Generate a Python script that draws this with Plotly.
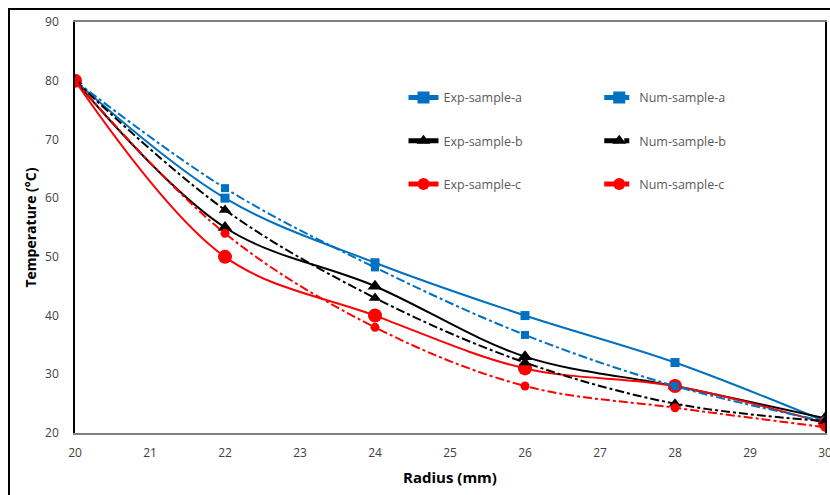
import plotly.graph_objects as go

# Radial positions (mm)
radius = [20, 22, 24, 26, 28, 30]

# Temperatures (°C) — experimental and numerical results for three samples
exp_a = [80, 60, 49, 40, 32, 22]
num_a = [80, 61.7, 48.2, 36.7, 28, 22]
exp_b = [80, 55, 45, 33, 28, 22.5]
num_b = [80, 58, 43, 32, 25, 22]
exp_c = [80, 50, 40, 31, 28, 21.7]
num_c = [80, 54, 38, 28, 24.3, 21]

y_ticks = [20, 30, 40, 50, 60, 70, 80, 90]
x_ticks = [20, 21, 22, 23, 24, 25, 26, 27, 28, 29, 30]

BLUE = "#0070C0"
BLACK = "#000000"
RED = "#FF0000"

series = [
    ("Exp-sample-a", exp_a, BLUE, "solid", "square", 9, "legend"),
    ("Exp-sample-b", exp_b, BLACK, "solid", "triangle-up", 13, "legend"),
    ("Exp-sample-c", exp_c, RED, "solid", "circle", 14, "legend"),
    ("Num-sample-a", num_a, BLUE, "dashdot", "square", 8, "legend2"),
    ("Num-sample-b", num_b, BLACK, "dashdot", "triangle-up", 11, "legend2"),
    ("Num-sample-c", num_c, RED, "dashdot", "circle", 9, "legend2"),
]

fig = go.Figure()
for name, vals, color, dash, symbol, size, leg in series:
    fig.add_trace(go.Scatter(
        x=radius, y=vals, name=name, mode="lines+markers",
        line=dict(color=color, width=2, dash=dash, shape="spline", smoothing=1),
        marker=dict(color=color, symbol=symbol, size=size),
        legend=leg, legendgroup=name,
    ))

legend_style = dict(
    font=dict(family="Open Sans", size=12.5, color="#595959"),
    bgcolor="rgba(0,0,0,0)", tracegroupgap=24, itemsizing="constant",
    xanchor="left", yanchor="top", orientation="v",
)

fig.update_layout(
    width=830, height=495,
    margin=dict(l=75, r=5, t=22, b=62, autoexpand=False),
    paper_bgcolor="white", plot_bgcolor="white",
    font=dict(family="Open Sans", color="#595959"),
    showlegend=True,
    legend=dict(x=0.438, y=0.852, **legend_style),
    legend2=dict(x=0.699, y=0.852, **legend_style),
    xaxis=dict(
        range=[20, 30], tickvals=x_ticks, showgrid=False, zeroline=False,
        showline=True, linecolor="#808080", linewidth=1.5, mirror=True,
        tickfont=dict(family="Open Sans", size=12, color="#404040"),
        ticks="", ticklabelstandoff=8, ticklabeloverflow="allow",
        automargin=False,
        title=dict(text="<b>Radius (mm)</b>", standoff=12,
                   font=dict(family="Open Sans", size=15, color="#000000")),
    ),
    yaxis=dict(
        range=[20, 90], tickvals=y_ticks, showgrid=False, zeroline=False,
        showline=True, linecolor="#000000", linewidth=1.5, mirror=True,
        tickfont=dict(family="Open Sans", size=12, color="#404040"),
        ticks="", ticklabelstandoff=12,
        title=dict(text="<b>Temperature (°C)</b>", standoff=5,
                   font=dict(family="Open Sans", size=14, color="#000000")),
    ),
)

# Outer chart frame
fig.add_shape(type="rect", xref="paper", yref="paper",
              x0=-0.088, x1=1.2, y0=-0.3, y1=1.0316,
              line=dict(color="#000000", width=2), layer="below")

fig.write_html("out.html")
